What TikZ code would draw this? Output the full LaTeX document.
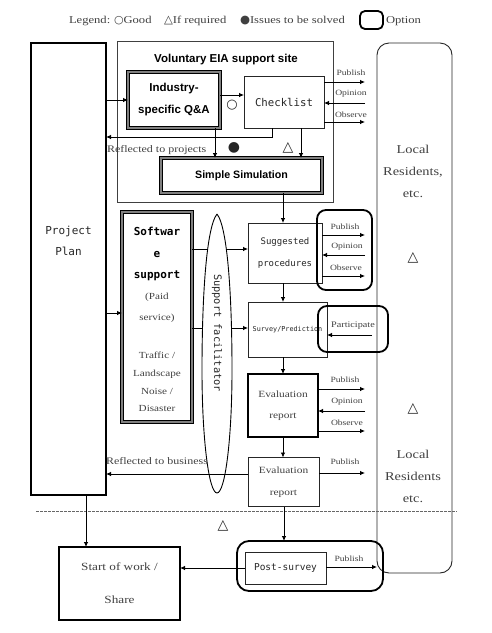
\documentclass[tikz,border=0pt]{standalone}
\usepackage{fontspec}
\newfontfamily\minc{Liberation Serif}[FakeStretch=1.2]
\newfontfamily\goth{DejaVu Sans Mono}
\newfontfamily\hdr{Liberation Sans}
\newfontfamily\sym{DejaVu Sans}
\usetikzlibrary{arrows.meta,calc}
\begin{document}
\begin{tikzpicture}[x=1pt,y=-1pt,
  every node/.style={inner sep=0pt, outer sep=0pt},
  arr/.style={-{Latex[length=5pt,width=4.5pt]}, line width=0.8pt, draw=black},
  plain/.style={draw=black!85, line width=0.9pt},
  heavy/.style={draw=black, line width=1.8pt},
  dbl/.style={draw=black, line width=1.1pt, double=black!50, double distance=1.1pt},
  opt/.style={draw=black, line width=1.8pt, rounded corners=9pt},
  lbl/.style={text=black!75, font=\minc\fontsize{8}{9}\selectfont},
  leg/.style={text=black!75, anchor=west, font=\minc\fontsize{10.5}{12}\selectfont},
  symb/.style={font=\sym\fontsize{14}{14}\selectfont, text=black!85},
  mono/.style={text=black!85, align=center},
  serif/.style={text=black!75, align=center}
]
\useasboundingbox (0,0) rectangle (491,633);

% legend
\node[leg] (lg1) at (69,21) {Legend:};
\node[leg] (lg2) at (114,21) {{\sym\fontsize{11}{10}\selectfont ○}Good};
\node[leg] (lg3) at (164,21) {{\sym\fontsize{11.5}{10}\selectfont △}If required};
\node[leg] (lg4) at (240,21) {{\sym\fontsize{11.5}{10}\selectfont ●}Issues to be solved};
\node[draw=black, line width=1.8pt, rounded corners=5pt, minimum width=23pt, minimum height=18pt] (lgopt) at (371.5,20) {};
\node[leg] (lg5) at (386,21) {Option};

% local residents column
\node[draw=black!85, line width=0.9pt, rounded corners=12pt, minimum width=75pt, minimum height=530pt] (LR) at (414.5,308) {};
\node[serif, font=\minc\fontsize{12}{22}\selectfont] (LRa) at (413,171) {Local\\Residents,\\etc.};
\node[serif, font=\minc\fontsize{12}{22}\selectfont] (LRb) at (413,476) {Local\\Residents\\etc.};

% project plan
\node[draw=black, line width=1.5pt, minimum width=75pt, minimum height=452pt] (PP) at (68.5,269) {};
\node[mono, font=\goth\fontsize{11}{21}\selectfont] (PPt) at (68.5,240.5) {Project\\Plan};

% voluntary EIA support site
\node[draw=black!75, line width=0.8pt, minimum width=216pt, minimum height=161pt] (VS) at (225,121.5) {};
\node[font=\hdr\bfseries\fontsize{11.5}{13}\selectfont] (VSt) at (226,60) {Voluntary EIA support site};
\node[dbl, minimum width=92pt, minimum height=56pt, align=center, font=\hdr\bfseries\fontsize{11.5}{22}\selectfont] (QA) at (174,100) {Industry-\\specific Q\&A};
\node[plain, minimum width=80pt, minimum height=52pt, mono, font=\goth\fontsize{10.7}{12}\selectfont] (CL) at (284,102) {Checklist};
\node[dbl, minimum width=161pt, minimum height=35pt, font=\hdr\bfseries\fontsize{10.7}{12}\selectfont] (SS) at (241.5,175.5) {Simple Simulation};

% software support
\node[dbl, minimum width=70pt, minimum height=210pt] (SW) at (157,317) {};
\node[mono, text=black, font=\goth\bfseries\fontsize{11}{21.5}\selectfont] (SWa) at (157,254) {Softwar\\e\\support};
\node[serif, font=\minc\fontsize{9.3}{21}\selectfont] (SWb) at (157,307.5) {(Paid\\service)};
\node[serif, font=\minc\fontsize{9.3}{17.7}\selectfont] (SWc) at (157,382) {Traffic /\\Landscape\\Noise /\\Disaster};

% right column boxes
\node[plain, minimum width=74pt, minimum height=60pt, mono, font=\goth\fontsize{9}{22}\selectfont] (SP) at (285,253) {Suggested\\procedures};
\node[opt, minimum width=55pt, minimum height=80pt] (O1) at (344.5,250) {};
\node[plain, minimum width=79pt, minimum height=55pt, mono, font=\goth\fontsize{6.8}{8}\selectfont] (SV) at (287.5,329.5) {Survey/Prediction};
\node[opt, minimum width=70pt, minimum height=46pt] (O2) at (353,329) {};
\node[heavy, minimum width=70pt, minimum height=63pt, serif, font=\minc\fontsize{9.5}{21}\selectfont] (ER1) at (283,405.5) {Evaluation\\report};
\node[plain, minimum width=71pt, minimum height=49pt, serif, font=\minc\fontsize{9.5}{22}\selectfont] (ER2) at (283.5,482) {Evaluation\\report};

% bottom
\node[draw=black, line width=1.2pt, minimum width=121pt, minimum height=73pt, serif, font=\minc\fontsize{11}{33}\selectfont] (ST) at (119.5,583.5) {Start of work /\\Share};
\node[opt, rounded corners=12pt, minimum width=146pt, minimum height=50pt] (O3) at (310,566) {};
\node[plain, minimum width=81pt, minimum height=32pt, mono, font=\goth\fontsize{9.5}{11}\selectfont] (PS) at (285.5,568) {Post-survey};

% dashed separator
\draw[black!60, line width=1pt, dash pattern=on 3pt off 1pt] (36,511) -- (457,511);

% connectors top area
\draw[arr] (PP.east |- QA.west) -- (QA.west);
\draw[arr] ([yshift=5pt]QA.east) -- ([yshift=5pt]QA.east -| CL.west);
\draw[arr] ([xshift=-12pt]CL.south) |- ([yshift=-9pt]CL.south -| PP.east);
\draw[arr] ([xshift=41pt]QA.south) -- ([xshift=41pt]QA.south |- SS.north);
\draw[arr] ([xshift=17pt]CL.south) -- ([xshift=17pt]CL.south |- SS.north);
\node[lbl, font=\minc\fontsize{10}{12}\selectfont, anchor=west] (rp) at (107,150) {Reflected to projects};

\coordinate (pub1) at (365,82);
\coordinate (opi1) at (365,103);
\coordinate (obs1) at (365,122);
\draw[arr] (CL.east |- pub1) -- (pub1);
\draw[arr] (opi1) -- (CL.east |- opi1);
\draw[arr] (CL.east |- obs1) -- (obs1);
\node[lbl] (tp1) at (351,73) {Publish};
\node[lbl] (to1) at (351,94) {Opinion};
\node[lbl] (tb1) at (351,115) {Observe};

% column of vertical arrows
\coordinate (col) at (283,0);
\draw[arr] (col |- SS.south) -- (col |- SP.north);
\draw[arr] (col |- SP.south) -- (col |- SV.north);
\draw[arr] (col |- SV.south) -- (col |- ER1.north);
\draw[arr] (col |- ER1.south) -- (col |- ER2.north);
\draw[arr] ([xshift=1pt]col |- ER2.south) -- ([xshift=1pt]col |- O3.north);

% software / facilitator
\draw[arr] (PP.east |- 0,313) -- (SW.west |- 0,313);
\draw[arr] (SW.east |- 0,249) -- (SP.west |- 0,249);
\draw[arr] (SW.east |- 0,328) -- (SV.west |- 0,328);
\path[draw=black, line width=0.9pt, fill=white] (217,214) .. controls (228,228) and (232,300) .. (232,370) .. controls (232,440) and (225,493) .. (217,493) .. controls (209,493) and (202,440) .. (202,370) .. controls (202,300) and (206,228) .. (217,214);
\node[rotate=-90, text=black!85, font=\goth\fontsize{10.3}{12}\selectfont] (SF) at (217,333) {Support facilitator};

% option 1 arrows
\coordinate (pub2) at (365,235);
\coordinate (opi2) at (365,255);
\coordinate (obs2) at (365,276);
\draw[arr] (SP.east |- pub2) -- (pub2);
\draw[arr] (opi2) -- (SP.east |- opi2);
\draw[arr] (SP.east |- obs2) -- (obs2);
\node[lbl] (tp2) at (345,227) {Publish};
\node[lbl] (to2) at (347,247) {Opinion};
\node[lbl] (tb2) at (346,268) {Observe};

% participate
\coordinate (par) at (372,335);
\draw[arr] (par) -- (SV.east |- par);
\node[lbl, font=\minc\fontsize{8.5}{9}\selectfont] (tpa) at (353,326) {Participate};

% evaluation report 1 arrows
\coordinate (pub3) at (365,389);
\coordinate (opi3) at (365,411);
\coordinate (obs3) at (365,431);
\draw[arr] (ER1.east |- pub3) -- (pub3);
\draw[arr] (opi3) -- (ER1.east |- opi3);
\draw[arr] (ER1.east |- obs3) -- (obs3);
\node[lbl] (tp3) at (345,380) {Publish};
\node[lbl] (to3) at (347,402) {Opinion};
\node[lbl] (tb3) at (347,423) {Observe};

% evaluation report 2 arrows
\coordinate (pub4) at (365,473);
\draw[arr] (ER2.east |- pub4) -- (pub4);
\node[lbl] (tp4) at (345,462) {Publish};
\draw[arr] (ER2.west |- 0,474) -- (PP.east |- 0,474);
\node[lbl, font=\minc\fontsize{10}{12}\selectfont, anchor=west] (rb) at (106,461) {Reflected to business};

% bottom connectors
\draw[arr] ([xshift=17.5pt]PP.south) -- ([xshift=17.5pt]PP.south |- ST.north);
\draw[arr] (PS.west) -- (ST.east |- PS.west);
\coordinate (pub5) at (377,567);
\draw[arr] (PS.east |- pub5) -- (pub5);
\node[lbl] (tp5) at (349,559) {Publish};

% symbols
\node[symb, font=\sym\fontsize{13}{14}\selectfont] (s1) at (232,105) {○};
\node[symb, font=\sym\fontsize{14}{14}\selectfont] (s2) at (234,148) {●};
\node[symb] (s3) at (288,148) {△};
\node[symb] (s4) at (413,258) {△};
\node[symb] (s5) at (413,409) {△};
\node[symb] (s6) at (223,526) {△};
\end{tikzpicture}
\end{document}
